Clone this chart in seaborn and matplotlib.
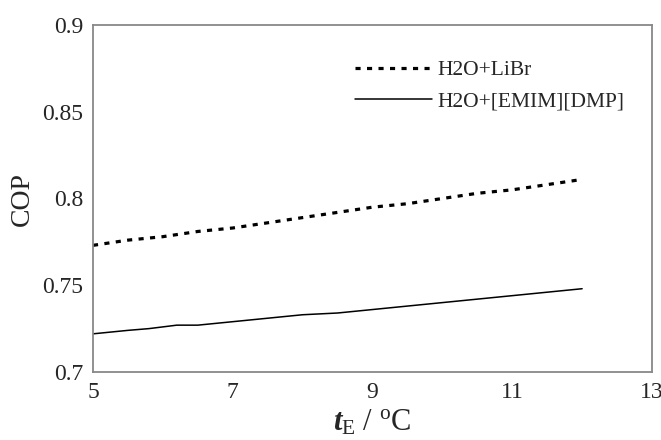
import matplotlib
matplotlib.use("Agg")
import matplotlib.pyplot as plt
import seaborn as sns
import pandas as pd
from matplotlib.lines import Line2D

# Data
t_libr = [5, 5.5, 6, 6.5, 7, 7.5, 8, 8.5, 9, 9.5, 10, 10.5, 11, 11.5, 12]
cop_libr = [0.773, 0.776, 0.778, 0.781, 0.783, 0.786, 0.789, 0.792, 0.795,
            0.797, 0.800, 0.803, 0.805, 0.808, 0.811]
t_il = [5, 5.5, 5.8, 6.2, 6.5, 7, 7.5, 8, 8.5, 9, 9.5, 10, 10.5, 11, 11.5, 12]
cop_il = [0.722, 0.724, 0.725, 0.727, 0.727, 0.729, 0.731, 0.733, 0.734,
          0.736, 0.738, 0.740, 0.742, 0.744, 0.746, 0.748]
labels = ["H2O+LiBr", "H2O+[EMIM][DMP]"]
xticks = [5, 7, 9, 11, 13]
yticks = [0.7, 0.75, 0.8, 0.85, 0.9]
ytick_labels = ["0.7", "0.75", "0.8", "0.85", "0.9"]

df = pd.concat([
    pd.DataFrame({"t": t_libr, "COP": cop_libr, "fluid": labels[0]}),
    pd.DataFrame({"t": t_il, "COP": cop_il, "fluid": labels[1]}),
])

sns.set_theme(style="white")
plt.rcParams["font.family"] = ["Liberation Serif", "DejaVu Serif"]
plt.rcParams["mathtext.fontset"] = "custom"
plt.rcParams["mathtext.rm"] = "Liberation Serif"
plt.rcParams["mathtext.it"] = "Liberation Serif:italic:bold"

fig = plt.figure(figsize=(6.61, 4.40), dpi=100)
ax = fig.add_axes([93 / 661, 1 - 372 / 440, (652 - 93) / 661, (372 - 25) / 440])

sns.lineplot(data=df, x="t", y="COP", hue="fluid", style="fluid",
             palette={labels[0]: "black", labels[1]: "black"},
             dashes={labels[0]: (1.6, 2.0), labels[1]: ""},
             size="fluid", sizes={labels[0]: 2.3, labels[1]: 1.1},
             ax=ax, legend=False)

ax.set_xlim(5, 13)
ax.set_ylim(0.7, 0.9)
ax.set_xticks(xticks)
ax.set_yticks(yticks)
ax.set_yticklabels(ytick_labels)
ax.tick_params(direction="in", length=6, width=1.0, color="#555555",
               labelsize=17, pad=7)
for s in ax.spines.values():
    s.set_color("#888888")
    s.set_linewidth(1.3)

ax.set_xlabel(r"$t_{\mathrm{E}}$ / $^{\mathrm{o}}$C", fontsize=22, labelpad=4)
ax.set_ylabel("COP", fontsize=20, labelpad=5)

handles = [Line2D([], [], color="black", lw=2.3, dashes=(1.6, 2.0)),
           Line2D([], [], color="black", lw=1.1)]
leg = ax.legend(handles, labels, loc="upper left", bbox_to_anchor=(0.434, 0.955),
                frameon=False, fontsize=15.5, handlelength=3.6,
                handletextpad=0.25, labelspacing=0.55)

fig.savefig("out.png", dpi=100)
